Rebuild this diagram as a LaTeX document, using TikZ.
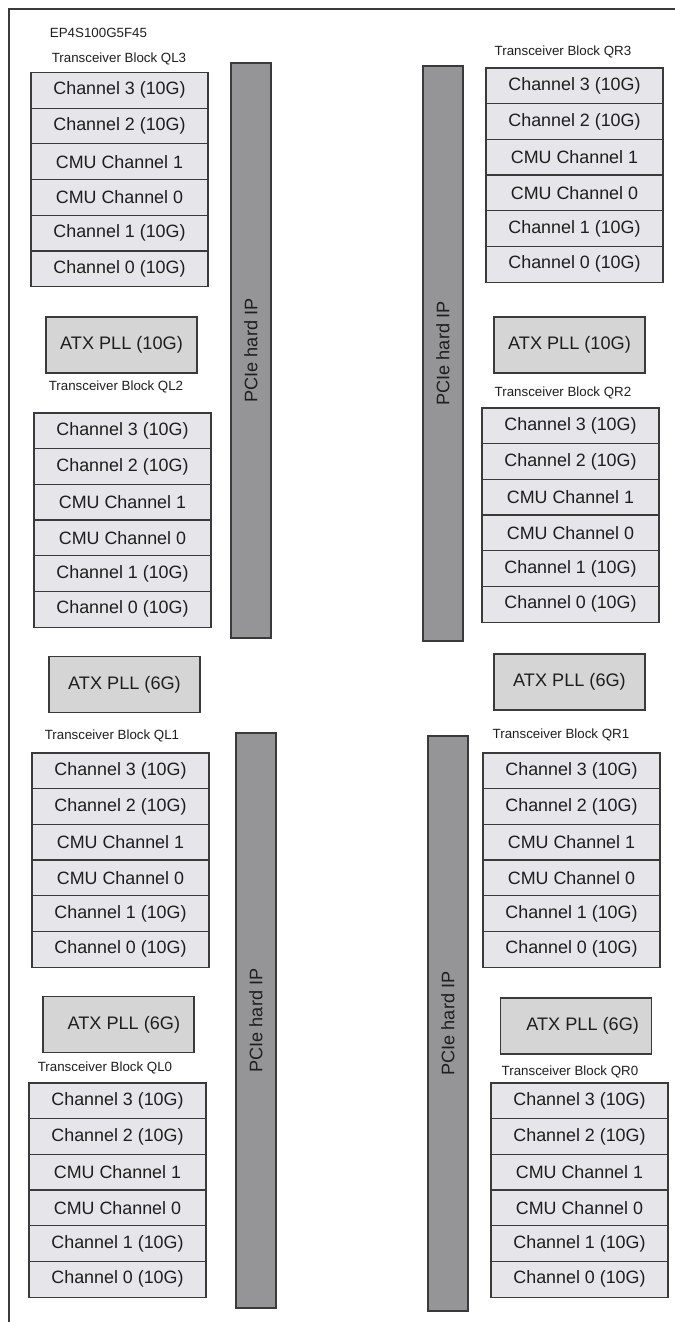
\documentclass[tikz,border=0pt]{standalone}
\usepackage{fontspec}
\setmainfont{Liberation Sans}
\usepackage{xcolor}
\usetikzlibrary{positioning}
\definecolor{chfill}{HTML}{E5E5EA}
\definecolor{pllfill}{HTML}{D5D5D6}
\definecolor{pcifill}{HTML}{959597}
\definecolor{edge}{HTML}{3A3A3A}
\definecolor{ink}{HTML}{1E1E1E}
\tikzset{
  chbox/.style={draw=edge, fill=chfill, line width=0.9pt, inner sep=0pt,
                minimum width=132.75pt, minimum height=26.8pt, text=ink,
                font=\fontsize{13.4}{15}\selectfont},
  pllbox/.style={draw=edge, fill=pllfill, line width=0.9pt, inner sep=0pt,
                 minimum width=113.25pt, minimum height=42pt, text=ink,
                 font=\fontsize{13.6}{15}\selectfont},
  pcibar/.style={draw=edge, fill=pcifill, line width=0.9pt, inner sep=0pt,
                 rotate=90, minimum width=431.25pt, minimum height=30pt, text=ink,
                 font=\fontsize{13.6}{15}\selectfont},
  blklbl/.style={inner sep=0pt, text=ink, font=\fontsize{10}{12}\selectfont},
}

\begin{document}
\begin{tikzpicture}[x=0.75pt, y=-0.75pt]
  \useasboundingbox (0,0) rectangle (675,1322);

  %% Frame (open at right and bottom)
  \draw[edge, line width=1.3pt] (9,1322) -- (9,9) -- (675,9);

  \node[blklbl] (part) at (98.5,33) {EP4S100G5F45};

  %% Transceiver blocks: name / left / top / label x / label y
  \foreach \blk/\xl/\yt/\lx/\ly in {
    QL3/31/72.5/119/59, QR3/486/68/563/52,
    QL2/34/413/116/387, QR2/482/408/563/393,
    QL1/32/753/112/736, QR1/483/753/561/735,
    QL0/29/1083/105/1068, QR0/491/1083/570/1072}{
    \node[blklbl] (\blk-lbl) at (\lx,\ly) {Transceiver Block \blk};
    \foreach \i/\txt in {1/Channel 3 (10G), 2/Channel 2 (10G), 3/CMU Channel 1,
                         4/CMU Channel 0, 5/Channel 1 (10G), 6/Channel 0 (10G)}{
      \node[chbox] (\blk-\i) at ({\xl+88.5},{\yt+(\i-0.5)*35.7}) {\txt};
    }
  }

  %% ATX PLLs between the blocks
  \node[pllbox] (pllL32) at (121.5,345)  {ATX PLL (10G)};
  \node[pllbox] (pllR32) at (569.5,345)  {ATX PLL (10G)};
  \node[pllbox] (pllL21) at (124.5,684.5) {ATX PLL (6G)};
  \node[pllbox] (pllR21) at (569.5,682)  {ATX PLL (6G)};
  \node[pllbox] (pllL10) at (118.5,1024.5) {\hspace*{8pt}ATX PLL (6G)};
  \node[pllbox] (pllR10) at (576,1026)   {\hspace*{10pt}ATX PLL (6G)};

  %% PCIe hard IP bars
  \foreach \nm/\x/\y in {pciTL/251/350.5, pciTR/443/353.5,
                         pciBL/256/1020.5, pciBR/448/1023.5}{
    \node[pcibar] (\nm) at (\x,\y) {PCIe hard IP};
  }

\end{tikzpicture}
\end{document}
